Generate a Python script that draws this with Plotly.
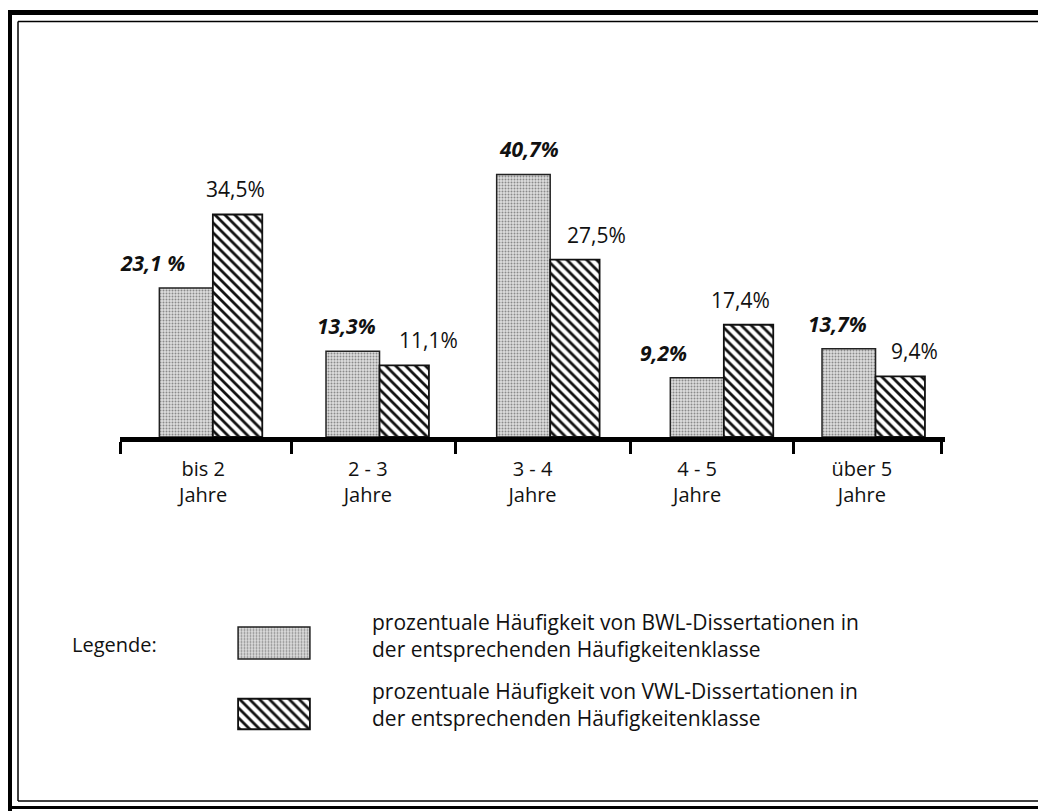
import plotly.graph_objects as go

# page body adds an 8px margin, so the figure is slightly smaller and
# screen coordinates are converted with that offset
PAD = 8
W, H = 1046 - PAD, 811 - PAD

# ---------------- data ----------------
CATEGORIES = ["bis 2<br>Jahre", "2 - 3<br>Jahre", "3 - 4<br>Jahre", "4 - 5<br>Jahre", "über 5<br>Jahre"]
BWL_VALUES = [23.1, 13.3, 40.7, 9.2, 13.7]
VWL_VALUES = [34.5, 11.1, 27.5, 17.4, 9.4]
BWL_TEXT = ["23,1 %", "13,3%", "40,7%", "9,2%", "13,7%"]
VWL_TEXT = ["34,5%", "11,1%", "27,5%", "17,4%", "9,4%"]
LEGEND_TITLE = "Legende:"
LEGEND_LABELS = [
    "prozentuale Häufigkeit von BWL-Dissertationen in<br>der entsprechenden Häufigkeitenklasse",
    "prozentuale Häufigkeit von VWL-Dissertationen in<br>der entsprechenden Häufigkeitenklasse",
]
LEGEND_KEYS = ["BWL", "VWL"]

# ---------------- style ----------------
FONT = "Open Sans, Noto Sans, sans-serif"
UNIT_PX = 165.0                      # pixels per category step
BWL_OFFSET, BWL_WIDTH = -0.26, 0.325
VWL_OFFSET, VWL_WIDTH = 0.065, 0.30
GROUP_DX = [-1, 1, 7, 16, 3]          # hand-drawn nudges of each bar pair (px)
TICK_DX = [0, 6, 5, 16, 14, -3]       # hand-drawn nudges of the axis ticks (px)
BWL_LABEL_DX = [-34, -6, 6, -34, -11]
VWL_LABEL_DX = [-2, 24, 22, -8, 14]

POS = list(range(len(CATEGORIES)))
BOUNDS = [p - 0.5 for p in POS] + [POS[-1] + 0.5]
TICKS = [b + d / UNIT_PX for b, d in zip(BOUNDS, TICK_DX)]
XRANGE = [-0.505, len(POS) - 0.495]
BWL_OFFS = [BWL_OFFSET + d / UNIT_PX for d in GROUP_DX]
VWL_OFFS = [VWL_OFFSET + d / UNIT_PX for d in GROUP_DX]


def pxx(px):
    return (px - PAD) / W


def pxy(py):
    return 1 - (py - PAD) / H


BASE_PY, TOP_PY = 437, 100
Y_MAX = (BASE_PY - TOP_PY) / 6.45

bwl_marker = dict(
    color="#dadada",
    line=dict(color="#222", width=1.5),
    pattern=dict(shape=".", fillmode="replace", bgcolor="#dedede", fgcolor="#8a8a8a", size=3, solidity=0.35),
)
vwl_marker = dict(
    color="white",
    line=dict(color="#111", width=1.8),
    pattern=dict(shape="\\", fillmode="replace", bgcolor="white", fgcolor="#111", size=7, solidity=0.4),
)

fig = go.Figure()
fig.add_trace(go.Bar(x=POS, y=BWL_VALUES, width=BWL_WIDTH, offset=BWL_OFFS, marker=bwl_marker,
                     showlegend=False, hoverinfo="skip"))
fig.add_trace(go.Bar(x=POS, y=VWL_VALUES, width=VWL_WIDTH, offset=VWL_OFFS, marker=vwl_marker,
                     showlegend=False, hoverinfo="skip"))

# legend swatches drawn as bars on their own small axes
fig.add_trace(go.Bar(x=[1], y=[LEGEND_KEYS[0]], orientation="h", width=0.45, marker=bwl_marker,
                     xaxis="x3", yaxis="y3", showlegend=False, hoverinfo="skip"))
fig.add_trace(go.Bar(x=[1], y=[LEGEND_KEYS[1]], orientation="h", width=0.43, marker=vwl_marker,
                     xaxis="x3", yaxis="y3", showlegend=False, hoverinfo="skip"))

annotations = []
for i, p in enumerate(POS):
    annotations.append(dict(
        x=p + BWL_OFFS[i] + BWL_WIDTH / 2, y=BWL_VALUES[i], xref="x", yref="y",
        text="<b><i>" + BWL_TEXT[i] + "</i></b>", showarrow=False,
        xanchor="center", yanchor="bottom", xshift=BWL_LABEL_DX[i], yshift=9,
        font=dict(family=FONT, size=21, color="#111")))
    annotations.append(dict(
        x=p + VWL_OFFS[i] + VWL_WIDTH / 2, y=VWL_VALUES[i], xref="x", yref="y",
        text=VWL_TEXT[i], showarrow=False,
        xanchor="center", yanchor="bottom", xshift=VWL_LABEL_DX[i], yshift=9,
        font=dict(family=FONT, size=21, color="#111")))

annotations.append(dict(x=pxx(70), y=pxy(644), xref="paper", yref="paper", text=LEGEND_TITLE,
                        showarrow=False, xanchor="left", yanchor="middle",
                        font=dict(family=FONT, size=20, color="#111")))
for lbl, cy in zip(LEGEND_LABELS, [635, 704]):
    annotations.append(dict(x=pxx(370), y=pxy(cy), xref="paper", yref="paper", text=lbl,
                            showarrow=False, xanchor="left", yanchor="middle", align="left",
                            font=dict(family=FONT, size=21, color="#111")))

shapes = [
    # outer heavy frame
    dict(type="line", xref="paper", yref="paper", x0=pxx(7), x1=pxx(1060), y0=pxy(12.5), y1=pxy(12.5),
         line=dict(color="black", width=5)),
    dict(type="line", xref="paper", yref="paper", x0=pxx(9.5), x1=pxx(9.5), y0=pxy(10), y1=pxy(820),
         line=dict(color="black", width=5)),
    dict(type="line", xref="paper", yref="paper", x0=pxx(7), x1=pxx(1060), y0=pxy(807.5), y1=pxy(807.5),
         line=dict(color="black", width=3)),
    # inner thin frame
    dict(type="line", xref="paper", yref="paper", x0=pxx(18), x1=pxx(1060), y0=pxy(21.5), y1=pxy(21.5),
         line=dict(color="black", width=1.5)),
    dict(type="line", xref="paper", yref="paper", x0=pxx(18), x1=pxx(18), y0=pxy(21.5), y1=pxy(801),
         line=dict(color="black", width=1.5)),
    dict(type="line", xref="paper", yref="paper", x0=pxx(18), x1=pxx(1060), y0=pxy(801), y1=pxy(801),
         line=dict(color="black", width=1.5)),
]

x_domain = [pxx(120), pxx(945)]
y_domain = [pxy(BASE_PY), pxy(TOP_PY)]

fig.update_layout(
    width=W, height=H,
    margin=dict(l=0, r=0, t=0, b=0),
    paper_bgcolor="white", plot_bgcolor="rgba(0,0,0,0)",
    barmode="overlay",
    font=dict(family=FONT, size=20, color="#111"),
    xaxis=dict(
        domain=x_domain, range=XRANGE, tickmode="array", tickvals=POS, ticktext=CATEGORIES,
        ticks="", showgrid=False, zeroline=False,
        showline=True, linecolor="black", linewidth=4.5,
        tickfont=dict(family=FONT, size=20, color="#111"),
        ticklabelstandoff=10,
        minor=dict(tickmode="array", tickvals=TICKS, ticks="outside", ticklen=12, tickwidth=2.5,
                   tickcolor="black", showgrid=False),
    ),
    xaxis2=dict(
        domain=x_domain, range=XRANGE, overlaying="x", anchor="y", side="bottom",
        tickmode="array", tickvals=TICKS, ticks="inside", ticklen=14, tickwidth=2.5, tickcolor="black",
        showticklabels=False, showline=False, showgrid=False, zeroline=False,
    ),
    yaxis=dict(domain=y_domain, range=[0, Y_MAX], visible=False, showgrid=False, zeroline=False),
    xaxis3=dict(domain=[pxx(237), pxx(311)], range=[-0.015, 1.015], anchor="y3", visible=False),
    yaxis3=dict(domain=[pxy(749.5), pxy(607.5)], range=[-0.5, 1.5], anchor="x3", visible=False,
                type="category", categoryorder="array", categoryarray=LEGEND_KEYS[::-1]),
    annotations=annotations,
    shapes=shapes,
)

fig.write_html("out.html")
